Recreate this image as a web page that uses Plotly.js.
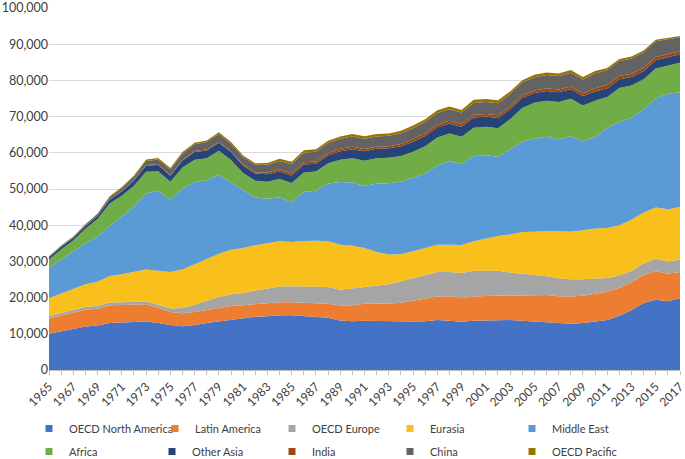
<!DOCTYPE html>
<html>
<head>
<meta charset="utf-8">
<script src="https://cdn.plot.ly/plotly-3.0.1.min.js"></script>
<style>html,body{margin:0;padding:0;background:#fff;}#chart{width:685px;height:459px;}</style>
</head>
<body>
<div id="chart"></div>
<script>
const years = [1965,1966,1967,1968,1969,1970,1971,1972,1973,1974,1975,1976,1977,1978,1979,1980,1981,1982,1983,1984,1985,1986,1987,1988,1989,1990,1991,1992,1993,1994,1995,1996,1997,1998,1999,2000,2001,2002,2003,2004,2005,2006,2007,2008,2009,2010,2011,2012,2013,2014,2015,2016,2017];
const yearTickLabels = [1965,1967,1969,1971,1973,1975,1977,1979,1981,1983,1985,1987,1989,1991,1993,1995,1997,1999,2001,2003,2005,2007,2009,2011,2013,2015,2017];
const valueTicks = [0,10000,20000,30000,40000,50000,60000,70000,80000,90000,100000];

const oecdNorthAmerica = [10000,10700,11400,12000,12300,13000,13100,13300,13400,13000,12400,12100,12400,13000,13400,14000,14300,14700,14850,15100,15100,14800,14500,14400,13700,13500,13600,13500,13400,13300,13400,13500,13800,13600,13300,13600,13700,13800,13800,13600,13300,13200,13000,12800,13000,13300,13800,15000,16500,18500,19400,19000,19800];
const latinAmerica = [4200,4300,4500,4650,4650,4900,4850,4700,4750,4200,3600,3550,3600,3600,3800,3700,3600,3550,3550,3650,3650,3750,3800,3900,4100,4400,4700,4800,5000,5300,5800,6200,6500,6800,6500,6700,6800,6800,6700,7000,7400,7500,7400,7500,7500,7700,7800,7700,7700,7800,7900,7600,7300];
const oecdEurope = [700,720,750,760,760,780,780,800,800,800,1000,1500,2000,2500,3000,3200,3400,3700,4000,4300,4400,4500,4600,4600,4400,4700,4800,5100,5300,5900,6200,6600,6800,6700,7000,7100,7000,6800,6400,6000,5500,5200,4950,4800,4600,4300,3800,3400,3200,3100,3400,3400,3400];
const eurasia = [4900,5400,5900,6300,6700,7300,7700,8200,8800,9400,10100,10600,11200,11700,11900,12300,12400,12500,12600,12500,12200,12600,12800,12700,12400,11700,10600,9200,8200,7500,7400,7400,7500,7500,7700,8200,8800,9600,10500,11500,12000,12500,13000,13100,13500,13800,13800,13900,14100,14100,14200,14400,14500];
const middleEast = [8400,9300,10000,11300,12400,13900,16000,18100,21100,22100,19900,22400,22700,21600,21800,18600,15900,13200,12300,12200,11000,13600,13800,15900,17300,17500,17100,18900,19700,20100,20300,20600,21900,23100,22400,23500,23000,21900,23500,25000,25700,26000,25400,26400,24600,25200,27700,28500,28200,28500,30100,31900,31700];
const africa = [2300,2900,3200,4000,4900,6100,5700,5800,5900,5400,5000,5800,6200,6100,6700,6200,4800,4600,4700,5000,5300,5300,5300,5600,6200,6700,7000,7000,7000,7000,7200,7500,7700,7600,7500,7800,7900,7900,8400,9300,9900,10000,10300,10300,9900,10100,8500,9400,8900,8300,8300,7800,8200];
const otherAsia = [620,650,700,800,900,1050,1150,1400,1750,1750,1650,1900,2150,2150,2200,2200,2050,2000,2050,2100,2100,2200,2150,2200,2350,2500,2600,2600,2650,2700,2750,2850,2850,2800,2800,2850,2800,2800,2750,2750,2700,2650,2650,2650,2600,2550,2450,2400,2350,2300,2300,2350,2300];
const india = [60,90,110,120,140,140,150,150,150,160,170,180,220,230,260,190,300,400,500,590,600,640,630,640,690,700,650,590,560,650,770,740,750,740,730,730,730,750,760,770,740,760,770,770,760,880,920,900,910,890,880,860,860];
const china = [230,290,280,300,430,620,790,920,1090,1320,1540,1740,1880,2080,2120,2120,2020,2050,2120,2300,2500,2620,2690,2740,2760,2770,2840,2840,2890,2930,2990,3170,3210,3210,3210,3250,3310,3350,3400,3480,3640,3710,3740,3810,3800,4080,4070,4150,4220,4250,4310,4000,3850];
const oecdPacific = [20,20,30,50,50,190,320,340,400,420,440,450,460,470,470,490,470,440,530,610,680,660,690,660,600,690,690,670,650,680,700,730,730,710,690,900,850,830,740,660,660,640,690,720,680,690,600,570,500,490,440,410,370];

const seriesNames = ["OECD North America","Latin America","OECD Europe","Eurasia","Middle East","Africa","Other Asia","India","China","OECD Pacific"];
const seriesValues = [oecdNorthAmerica, latinAmerica, oecdEurope, eurasia, middleEast, africa, otherAsia, india, china, oecdPacific];
const colors = ["#4472C4","#ED7D31","#A5A5A5","#F9BF1B","#5B9BD5","#70AD47","#264478","#9E480E","#636363","#997300"];

// legend placement (pixels): marker centres per column, row tops
const legendMarkerX = [50, 176, 293, 411, 533, 50, 173, 293, 411, 533];
const legendRowTop = [414, 414, 414, 414, 414, 437, 437, 437, 437, 437];

const W = 685, H = 459, M = {l: 49, r: 5, t: 8, b: 89};

const traces = [];
seriesNames.forEach((name, i) => {
  traces.push({
    type: "scatter", mode: "lines", name: name, x: years, y: seriesValues[i],
    stackgroup: "one", line: {width: 0, color: colors[i]}, fillcolor: colors[i],
    showlegend: false, hoverinfo: "x+y+name"
  });
});
const layout = {
  width: W, height: H,
  margin: M,
  paper_bgcolor: "#ffffff", plot_bgcolor: "#ffffff",
  font: {family: "Lato, 'Liberation Sans', sans-serif", size: 12, color: "#404040"},
  xaxis: {
    type: "linear", range: [1965, 2017], tickmode: "array", tickvals: yearTickLabels,
    ticktext: yearTickLabels.map(String),
    tickangle: -45, ticks: "outside", ticklen: 4, tickcolor: "#BFBFBF",
    minor: {tickmode: "array", tickvals: years, ticks: "outside", ticklen: 4, tickcolor: "#BFBFBF"},
    showline: true, linecolor: "#BFBFBF", linewidth: 1,
    showgrid: false, zeroline: false, ticklabeloverflow: "allow", automargin: false,
    tickfont: {size: 12, color: "#404040"}
  },
  yaxis: {
    range: [0, 100000], tickmode: "array", tickvals: valueTicks, tickformat: ",d",
    showgrid: true, gridcolor: "#D9D9D9", gridwidth: 1,
    showline: false, zeroline: false, ticks: "", ticklabeloverflow: "allow", automargin: false,
    tickfont: {size: 12.5, color: "#404040"}
  },
  showlegend: true
};
seriesNames.forEach((name, i) => {
  const key = i === 0 ? "legend" : "legend" + (i + 1);
  traces.push({
    type: "scatter", mode: "markers", name: name, x: [null], y: [null],
    marker: {symbol: "square", size: 7, color: colors[i]}, showlegend: true,
    legend: key
  });
  layout[key] = {
    orientation: "h", xref: "container", yref: "container",
    xanchor: "left", yanchor: "top",
    x: (legendMarkerX[i] - 21) / W,
    y: 1 - legendRowTop[i] / H,
    font: {size: 11, color: "#404040"}, bgcolor: "rgba(0,0,0,0)"
  };
});

Plotly.newPlot("chart", traces, layout, {staticPlot: true, displayModeBar: false});
</script>
</body>
</html>
